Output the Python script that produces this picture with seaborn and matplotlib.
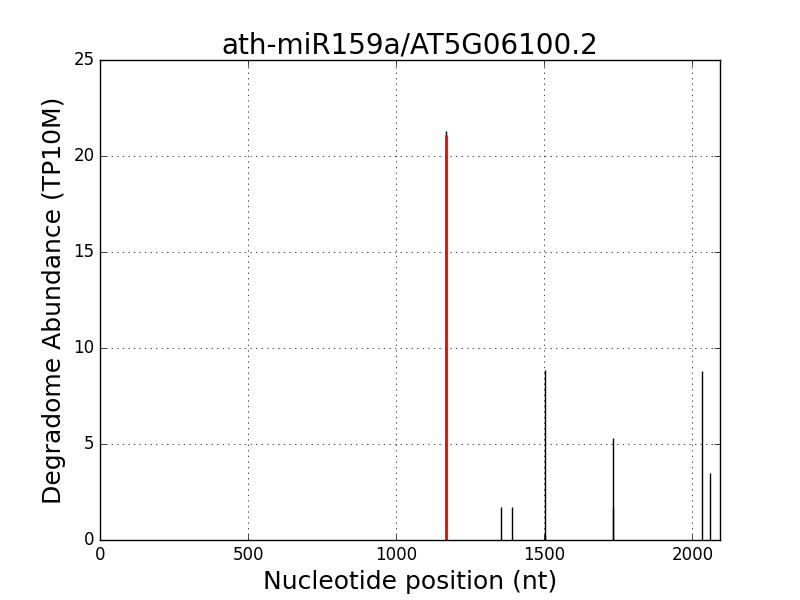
import matplotlib
matplotlib.use('Agg')
import matplotlib.pyplot as plt
import numpy as np
import pandas as pd
import seaborn as sns

# degradome peaks (position, abundance in TP10M)
positions = [1169, 1354, 1391, 1501, 1502, 1731, 1732, 2033, 2059]
abundance = [21.3, 1.74, 1.74, 0.25, 8.85, 1.74, 5.3, 8.82, 3.5]
site_pos = [1169]
site_abund = [21.1]
tx_length = 2093

df = pd.DataFrame({'pos': positions, 'abund': abundance})

plt.style.use('classic')
sns.set_context(rc={'lines.linewidth': 1})

fig, ax = plt.subplots(figsize=(8, 6), dpi=100)
fig.patch.set_facecolor('white')

ax.vlines(df['pos'], 0, df['abund'], colors='black', linewidth=1)
ax.vlines(site_pos, 0, site_abund, colors='red', linewidth=2)

ax.set_xlim(0, tx_length)
ax.set_ylim(0, 25)
ax.grid(True, linestyle=':', color='black')
ax.set_axisbelow(True)
ax.set_title('ath-miR159a/AT5G06100.2', fontsize=20)
ax.set_xlabel('Nucleotide position (nt)', fontsize=18)
ax.set_ylabel('Degradome Abundance (TP10M)', fontsize=18)
ax.tick_params(labelsize=12)

fig.savefig('out.png', dpi=100, facecolor='white')
